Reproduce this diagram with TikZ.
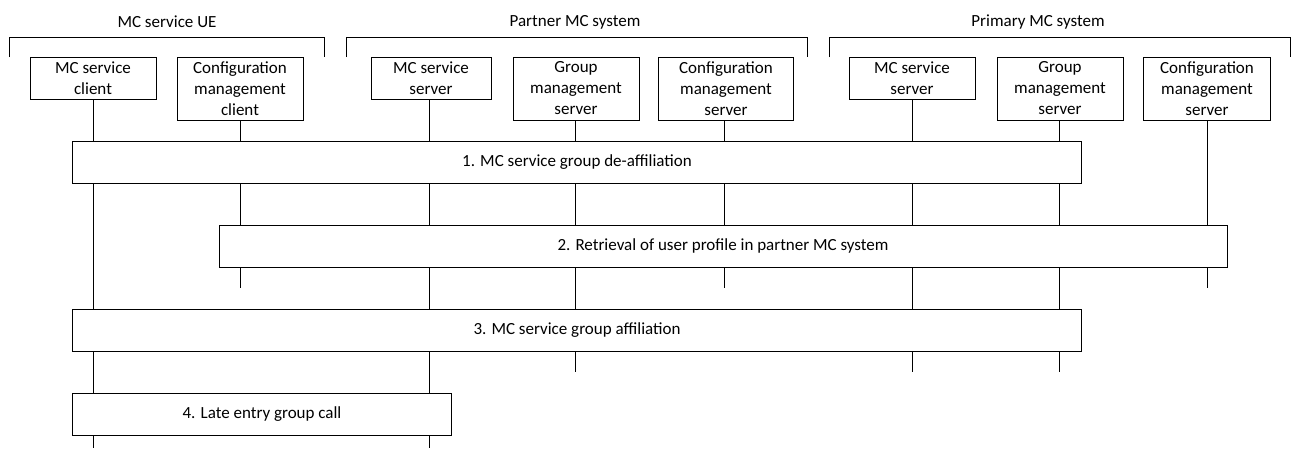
\documentclass[tikz,border=0pt]{standalone}
\usepackage{fontspec}
\setmainfont{Carlito}
\begin{document}
\begin{tikzpicture}[x=1pt,y=-1pt,
  ent/.style={draw,line width=0.8pt,fill=white,align=center,inner sep=0pt,font=\fontsize{17}{21}\selectfont},
  stepbox/.style={draw,line width=0.8pt,fill=white,inner sep=0pt,minimum height=42pt,font=\fontsize{17}{21}\selectfont},
  grp/.style={font=\fontsize{17}{21}\selectfont,inner sep=0pt},
  life/.style={line width=0.8pt},
  brk/.style={line width=0.8pt}]
\useasboundingbox (0,0) rectangle (1292,448);
% group brackets
\node[grp] (gUE) at (167,22) {MC service UE};
\node[grp] (gP) at (575,22) {Partner MC system};
\node[grp] (gM) at (1038,22) {Primary MC system};
\draw[brk] (9,57) -- (9,37) -- (324,37) -- (324,57);
\draw[brk] (346,57) -- (346,37) -- (807,37) -- (807,57);
\draw[brk] (829,57) -- (829,37) -- (1290,37) -- (1290,57);
% entities
\node[ent,minimum width=126pt,minimum height=42pt] (cl) at (93,78) {MC service\\client};
\node[ent,minimum width=126pt,minimum height=63pt] (cmc) at (240,88.5) {Configuration\\management\\client};
\node[ent,minimum width=120pt,minimum height=42pt] (pms) at (431,78) {MC service\\server};
\node[ent,minimum width=126pt,minimum height=63pt] (pgm) at (576,88.5) {Group\\management\\server};
\node[ent,minimum width=135pt,minimum height=63pt] (pcm) at (726,88.5) {Configuration\\management\\server};
\node[ent,minimum width=126pt,minimum height=42pt] (mms) at (912,78) {MC service\\server};
\node[ent,minimum width=126pt,minimum height=63pt] (mgm) at (1060,88.5) {Group\\management\\server};
\node[ent,minimum width=127pt,minimum height=63pt] (mcm) at (1207,88.5) {Configuration\\management\\server};
% lifelines
\coordinate (xcl) at (93,448);
\coordinate (xcmc) at (240,288);
\coordinate (xpms) at (429,448);
\coordinate (xpgm) at (575,372);
\coordinate (xpcm) at (724,288);
\coordinate (xmms) at (912,372);
\coordinate (xmgm) at (1059,372);
\coordinate (xmcm) at (1207,288);
\draw[life] (cl.south -| xcl) -- (xcl);
\draw[life] (cmc.south -| xcmc) -- (xcmc);
\draw[life] (pms.south -| xpms) -- (xpms);
\draw[life] (pgm.south -| xpgm) -- (xpgm);
\draw[life] (pcm.south -| xpcm) -- (xpcm);
\draw[life] (mms.south -| xmms) -- (xmms);
\draw[life] (mgm.south -| xmgm) -- (xmgm);
\draw[life] (mcm.south -| xmcm) -- (xmcm);
% steps
\node[stepbox,minimum width=1009pt] (s1) at (577,162) {1. MC service group de-affiliation};
\node[stepbox,minimum width=1008pt] (s2) at (723,246) {2. Retrieval of user profile in partner MC system};
\node[stepbox,minimum width=1009pt] (s3) at (577,330) {3. MC service group affiliation};
\node[stepbox,minimum width=379pt] (s4) at (262,414) {4. Late entry group call};
\end{tikzpicture}
\end{document}
